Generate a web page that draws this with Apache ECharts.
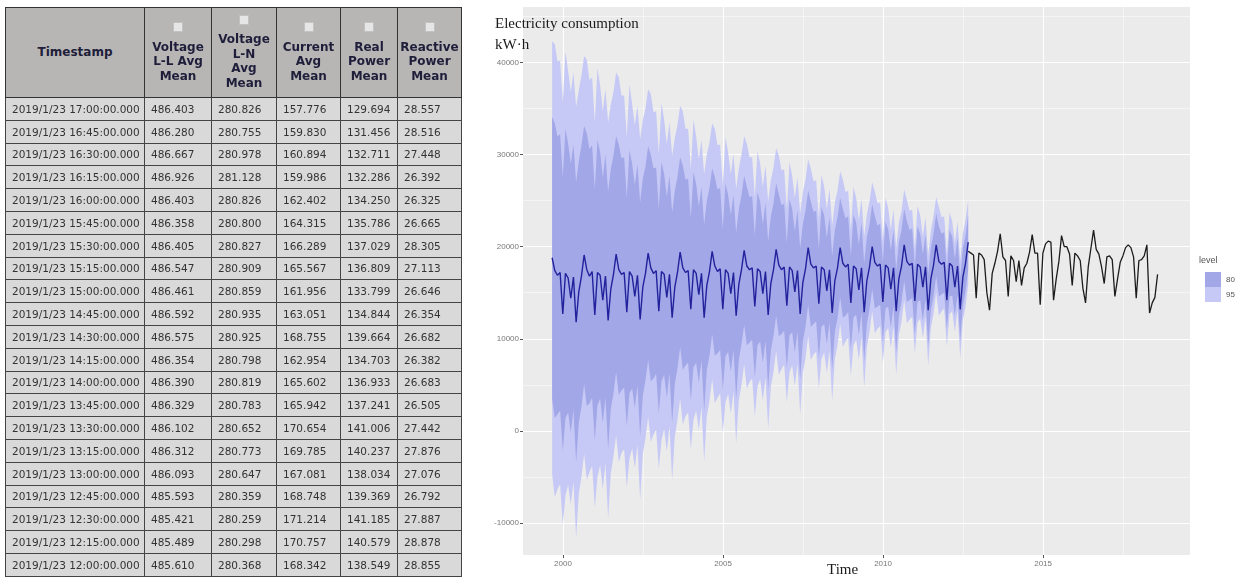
<!DOCTYPE html>
<html><head><meta charset="utf-8">
<script src="https://cdn.jsdelivr.net/npm/echarts@6/dist/echarts.min.js"></script>
<style>
html,body{margin:0;padding:0;background:#fff;width:1241px;height:581px;overflow:hidden;}
#chart{position:absolute;left:0;top:0;width:1241px;height:581px;}
#tbl{position:absolute;left:5px;top:7px;border-collapse:collapse;table-layout:fixed;width:456px;font-family:'DejaVu Sans',Verdana,sans-serif;z-index:2;}
#tbl th{background:#b8b5b5;color:#1e1e3a;font-weight:bold;font-size:12px;line-height:14.5px;border:1px solid #333;padding:0 1px;white-space:nowrap;text-align:center;vertical-align:middle;overflow:hidden;}
#tbl td{background:#d9d9d9;color:#333;font-size:10.5px;border:1px solid #444;padding:0 0 0 6px;white-space:nowrap;overflow:hidden;vertical-align:middle;}
#tbl tr.h{height:90px;}
#tbl tr.r{height:22.8px;}
.cb{display:inline-block;width:8px;height:8px;background:#e6e6e6;border:1px solid #c2c2c2;margin-bottom:4px;}
</style></head>
<body>
<div id="chart"></div>
<table id="tbl">
<colgroup><col style="width:139px"><col style="width:67px"><col style="width:65px"><col style="width:64px"><col style="width:57px"><col style="width:64px"></colgroup>
<thead><tr class="h" id="hrow"></tr></thead>
<tbody id="tbody"></tbody>
</table>
<script>
// ---------- table data ----------
const tableHeaders = ["Timestamp", "Voltage\nL-L Avg\nMean", "Voltage\nL-N\nAvg\nMean", "Current\nAvg\nMean", "Real\nPower\nMean", "Reactive\nPower\nMean"];
const timestamps = ["2019/1/23 17:00:00.000","2019/1/23 16:45:00.000","2019/1/23 16:30:00.000","2019/1/23 16:15:00.000","2019/1/23 16:00:00.000","2019/1/23 15:45:00.000","2019/1/23 15:30:00.000","2019/1/23 15:15:00.000","2019/1/23 15:00:00.000","2019/1/23 14:45:00.000","2019/1/23 14:30:00.000","2019/1/23 14:15:00.000","2019/1/23 14:00:00.000","2019/1/23 13:45:00.000","2019/1/23 13:30:00.000","2019/1/23 13:15:00.000","2019/1/23 13:00:00.000","2019/1/23 12:45:00.000","2019/1/23 12:30:00.000","2019/1/23 12:15:00.000","2019/1/23 12:00:00.000"];
const voltageLL = ["486.403","486.280","486.667","486.926","486.403","486.358","486.405","486.547","486.461","486.592","486.575","486.354","486.390","486.329","486.102","486.312","486.093","485.593","485.421","485.489","485.610"];
const voltageLN = ["280.826","280.755","280.978","281.128","280.826","280.800","280.827","280.909","280.859","280.935","280.925","280.798","280.819","280.783","280.652","280.773","280.647","280.359","280.259","280.298","280.368"];
const currentAvg = ["157.776","159.830","160.894","159.986","162.402","164.315","166.289","165.567","161.956","163.051","168.755","162.954","165.602","165.942","170.654","169.785","167.081","168.748","171.214","170.757","168.342"];
const realPower = ["129.694","131.456","132.711","132.286","134.250","135.786","137.029","136.809","133.799","134.844","139.664","134.703","136.933","137.241","141.006","140.237","138.034","139.369","141.185","140.579","138.549"];
const reactivePower = ["28.557","28.516","27.448","26.392","26.325","26.665","28.305","27.113","26.646","26.354","26.682","26.382","26.683","26.505","27.442","27.876","27.076","26.792","27.887","28.878","28.855"];

// ---------- chart data ----------
const frequency = 12;
const backcastStart = 1999.66;
const historyStart = 2012.66;
const backcastMean = [
 18800,17400,16900,17200,12700,17100,16600,14400,16700,11800,15100,16800,
 19100,17500,16800,17300,12600,17200,16900,14200,16800,12000,15400,17000,
 19200,17500,17000,17200,12900,17300,16800,14600,16900,12100,15600,17100,
 19300,17700,17100,17400,13000,17300,17000,14500,17000,12300,15600,17200,
 19400,17700,17200,17400,13200,17500,17100,14800,17100,12300,15800,17300,
 19500,17900,17300,17600,13200,17500,17100,14900,17200,12500,15900,17500,
 19600,17900,17500,17700,13500,17600,17300,14900,17300,12600,16000,17500,
 19700,18000,17500,17800,13600,17800,17400,15100,17400,12700,16100,17600,
 19900,18100,17700,17900,13800,17800,17500,15200,17500,12800,16300,17700,
 19900,18200,17800,18100,13900,17900,17600,15300,17700,12900,16300,17800,
 20000,18300,17900,18100,14000,18000,17700,15400,17700,13000,16500,17900,
 20200,18400,18000,18200,14100,18100,17800,15600,17800,13100,16500,18000,
 20200,18400,18100,18300,14200,18200,17900,15600,17900,13200,16700,18200,
 20500];
const halfWidth95 = [
 23500,24600,23200,23000,22900,24100,22500,22400,22200,23400,21900,21800,
 21600,22800,21300,21100,20900,22200,20600,20500,20300,21500,20000,19800,
 19700,20900,19400,19200,19000,20300,18700,18600,18400,19600,18100,17900,
 17800,18900,17500,17300,17100,18300,16800,16700,16500,17600,16200,16000,
 15900,17000,15600,15400,15200,16300,14900,14700,14500,15600,14200,14000,
 13900,14900,13700,13500,13400,14400,13100,13000,12900,13800,12600,12500,
 12400,13300,12200,12000,11900,12800,11700,11600,11500,12300,11200,11100,
 11000,11900,10800,10600,10500,11400,10300,10200,10100,10900,9800,9700,
 9600,10400,9400,9300,9200,10000,9000,8900,8800,9500,8500,8400,
 8300,9100,8100,8000,7900,8600,7700,7600,7500,8200,7200,7100,
 7000,7700,6800,6700,6600,7300,6500,6400,6300,6900,6100,6000,
 6000,6700,5900,5800,5700,6300,5600,5500,5400,6000,5300,5300,
 5200,5900,5100,5000,5000,5500,4900,4800,4800,5300,4700,4700,
 4600];
const halfWidth80 = [
 15300,16000,15100,15000,14900,15700,14600,14600,14400,15200,14200,14200,
 14000,14800,13800,13700,13600,14400,13400,13300,13200,14000,13000,12900,
 12800,13600,12600,12500,12400,13200,12200,12100,12000,12700,11800,11600,
 11600,12300,11400,11200,11100,11900,10900,10900,10700,11400,10500,10400,
 10300,11100,10100,10000,9900,10600,9700,9600,9400,10100,9200,9100,
 9000,9700,8900,8800,8700,9400,8500,8500,8400,9000,8200,8100,
 8100,8600,7900,7800,7700,8300,7600,7500,7500,8000,7300,7200,
 7200,7700,7000,6900,6800,7400,6700,6600,6600,7100,6400,6300,
 6200,6800,6100,6000,6000,6500,5900,5800,5700,6200,5500,5500,
 5400,5900,5300,5200,5100,5600,5000,4900,4900,5300,4700,4600,
 4600,5000,4400,4400,4300,4700,4200,4200,4100,4500,4000,3900,
 3900,4400,3800,3800,3700,4100,3600,3600,3500,3900,3400,3400,
 3400,3800,3300,3300,3200,3600,3200,3100,3100,3400,3100,3000,
 3000];
const history = [
 19500,19300,19100,14400,19300,19100,18600,15000,13100,17100,18200,19500,
 21400,18900,18500,14600,19000,18500,16200,18500,15800,17700,18200,19400,
 21300,19300,19300,13700,19300,20300,20600,20500,14200,16500,18400,21200,
 20000,20000,19200,15800,19300,19000,18500,15500,13900,17800,19800,21800,
 19700,19200,17800,16000,18900,19000,18600,14600,16500,18300,19000,19900,
 20200,19900,18900,14400,18500,18600,19000,20200,12800,13900,14500,17000];
const xTicks = [2000, 2005, 2010, 2015];
const yTicks = [-10000, 0, 10000, 20000, 30000, 40000];
const levels = ["80", "95"];

// ---------- build table ----------
const hrow = document.getElementById('hrow');
tableHeaders.forEach((h, i) => {
  const th = document.createElement('th');
  if (i > 0) { const cb = document.createElement('span'); cb.className = 'cb'; th.appendChild(cb); th.appendChild(document.createElement('br')); }
  h.split('\n').forEach((line, j) => { if (j > 0) th.appendChild(document.createElement('br')); th.appendChild(document.createTextNode(line)); });
  hrow.appendChild(th);
});
const tbody = document.getElementById('tbody');
timestamps.forEach((t, i) => {
  const tr = document.createElement('tr'); tr.className = 'r';
  [t, voltageLL[i], voltageLN[i], currentAvg[i], realPower[i], reactivePower[i]].forEach(v => {
    const td = document.createElement('td'); td.textContent = v; tr.appendChild(td);
  });
  tbody.appendChild(tr);
});

// ---------- build chart ----------
function timed(start, arr) { return arr.map((v, i) => [start + i / frequency, v]); }
function bandData(halfWidths) {
  return backcastMean.map((m, i) => [backcastStart + i / frequency, m - halfWidths[i], m + halfWidths[i]]);
}
const c95 = '#c6c9f5', c80 = '#a2a7e7';
const band95 = bandData(halfWidth95);
const band80 = bandData(halfWidth80);
function makeBandSeries(name, rows, color) {
  return {
    name: name, type: 'custom', silent: true, clip: true,
    itemStyle: {color: color},
    encode: {x: 0, y: [1, 2]},
    data: rows,
    renderItem: function (params, api) {
      if (params.dataIndex !== 0) return null;
      const pts = [];
      for (let i = 0; i < rows.length; i++) pts.push(api.coord([rows[i][0], rows[i][2]]));
      for (let i = rows.length - 1; i >= 0; i--) pts.push(api.coord([rows[i][0], rows[i][1]]));
      return {type: 'polygon', shape: {points: pts}, style: {fill: color, stroke: null}};
    }
  };
}

const chart = echarts.init(document.getElementById('chart'), null, {renderer: 'canvas'});
chart.setOption({
  animation: false,
  title: [
    {text: 'Electricity consumption\nkW·h', left: 495, top: 14, padding: 0,
     textStyle: {fontFamily: 'Liberation Serif', fontSize: 15, fontWeight: 'normal', color: '#1a1a1a', lineHeight: 21}},
    {text: 'Time', left: 827, top: 563, padding: 0,
     textStyle: {fontFamily: 'Liberation Serif', fontSize: 15, fontWeight: 'normal', color: '#1a1a1a'}},
    {text: 'level', left: 1199, top: 256, padding: 0,
     textStyle: {fontFamily: 'Liberation Sans', fontSize: 9, fontWeight: 'normal', color: '#555'}}
  ],
  legend: {left: 1205, top: 272, orient: 'vertical', itemWidth: 16, itemHeight: 15, itemGap: 0, padding: 0,
    icon: 'rect', selectedMode: false,
    data: [{name: levels[0], itemStyle: {color: c80}}, {name: levels[1], itemStyle: {color: c95}}],
    textStyle: {fontFamily: 'Liberation Sans', fontSize: 8, color: '#555'}},
  grid: {left: 523, right: 51, top: 7, bottom: 26, show: true, backgroundColor: '#ebebeb', borderWidth: 0},
  xAxis: {type: 'value', min: 1998.75, max: 2019.59,
    axisLine: {show: false, onZero: false},
    axisTick: {show: true, length: 3, lineStyle: {color: '#555'}, customValues: xTicks},
    axisLabel: {customValues: xTicks, fontSize: 8, color: '#777', margin: 5, fontFamily: 'Liberation Sans', formatter: v => String(v)},
    splitLine: {show: true, lineStyle: {color: '#ffffff', width: 1.1}},
    minorTick: {show: false, splitNumber: 2},
    minorSplitLine: {show: true, lineStyle: {color: '#ffffff', width: 0.5}}},
  yAxis: {type: 'value', min: -13470, max: 46020,
    axisLine: {show: false, onZero: false},
    axisTick: {show: true, length: 3, lineStyle: {color: '#555'}, customValues: yTicks},
    axisLabel: {customValues: yTicks, fontSize: 8, color: '#777', margin: 4, fontFamily: 'Liberation Sans', formatter: v => String(v)},
    splitLine: {show: true, lineStyle: {color: '#ffffff', width: 1.1}},
    minorTick: {show: false, splitNumber: 2},
    minorSplitLine: {show: true, lineStyle: {color: '#ffffff', width: 0.5}}},
  series: [
    makeBandSeries(levels[1], band95, c95),
    makeBandSeries(levels[0], band80, c80),
    {name: 'backcast', type: 'line', symbol: 'none', showSymbol: false, silent: true,
      data: timed(backcastStart, backcastMean), lineStyle: {color: '#22229c', width: 1.4}},
    {name: 'history', type: 'line', symbol: 'none', showSymbol: false, silent: true,
      data: timed(historyStart, history), lineStyle: {color: '#1c1c1c', width: 1.3}}
  ]
});
</script>
</body></html>
